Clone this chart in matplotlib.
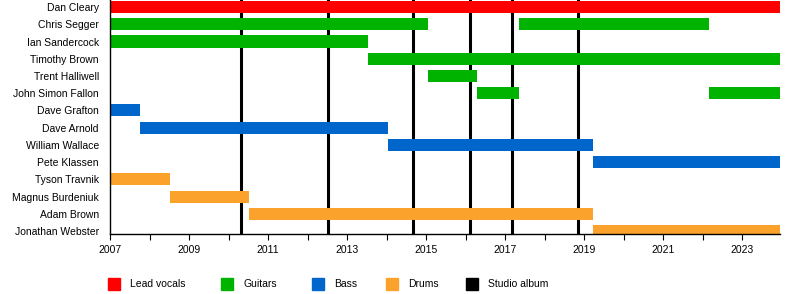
"""
Band member timeline.
"""

from matplotlib import pyplot as plt
from matplotlib.patches import Rectangle
from matplotlib.ticker import MultipleLocator

plt.rcParams['font.family'] = ['Liberation Sans', 'DejaVu Sans']

end = 2023.96   # Chart end (present).

members = ["Dan Cleary", "Chris Segger", "Ian Sandercock", "Timothy Brown", "Trent Halliwell",
           "John Simon Fallon", "Dave Grafton", "Dave Arnold", "William Wallace", "Pete Klassen",
           "Tyson Travnik", "Magnus Burdeniuk", "Adam Brown", "Jonathan Webster"]
# (start, end) periods for each member.
periods = [
    [(2007.0, end)],
    [(2007.0, 2015.05), (2017.35, 2022.16)],
    [(2007.0, 2013.53)],
    [(2013.53, end)],
    [(2015.05, 2016.29)],
    [(2016.29, 2017.35), (2022.16, end)],
    [(2007.0, 2007.75)],
    [(2007.75, 2014.03)],
    [(2014.03, 2019.22)],
    [(2019.22, end)],
    [(2007.0, 2008.51)],
    [(2008.51, 2010.51)],
    [(2010.51, 2019.22)],
    [(2019.22, end)],
]
roles = ["Lead vocals", "Guitars", "Guitars", "Guitars", "Guitars", "Guitars", "Bass", "Bass", "Bass",
         "Bass", "Drums", "Drums", "Drums", "Drums"]
albums = [2010.31, 2012.52, 2014.67, 2016.11, 2017.18, 2018.85]
year_labels = list(range(2007, 2024, 2))

colors = {"Lead vocals": "#ff0000", "Guitars": "#00b300", "Bass": "#0066cc", "Drums": "#fba22c",
          "Studio album": "#000000"}

fig = plt.figure(figsize=(8, 2.94), dpi=100)
ax = fig.add_axes([110 / 800, 1 - 234 / 294, 670 / 800, 234 / 294])

# Album release lines behind the bars.
for a in albums:
    ax.axvline(a, color="black", lw=2.2, zorder=1)

for i, (name, spans, role) in enumerate(zip(members, periods, roles)):
    for s, e in spans:
        ax.barh(i, e - s, left=s, height=0.7, color=colors[role], zorder=2)

ax.set_yticks(range(len(members)))
ax.set_yticklabels(members, fontsize=7.5)
ax.tick_params(axis="y", length=0, pad=8)
ax.set_ylim(13.17, -0.41)
ax.set_xlim(2007, end)
ax.set_xticks(year_labels)
ax.set_xticklabels([str(y) for y in year_labels])
ax.xaxis.set_minor_locator(MultipleLocator(1))
ax.tick_params(axis="x", which="both", length=4, width=0.8, labelsize=7.5, pad=4)
for side in ("top", "right"):
    ax.spines[side].set_visible(False)
for side in ("left", "bottom"):
    ax.spines[side].set_linewidth(1.0)

# Legend.
legend_x = [108, 221, 312, 386, 466]
for x, (label, c) in zip(legend_x, colors.items()):
    fig.patches.append(Rectangle((x / 800, 1 - 290 / 294), 12 / 800, 12 / 294,
                                 transform=fig.transFigure, color=c))
    fig.text((x + 22) / 800, 1 - 284 / 294, label, fontsize=7.5, va="center")

fig.savefig("out.png", dpi=100)
